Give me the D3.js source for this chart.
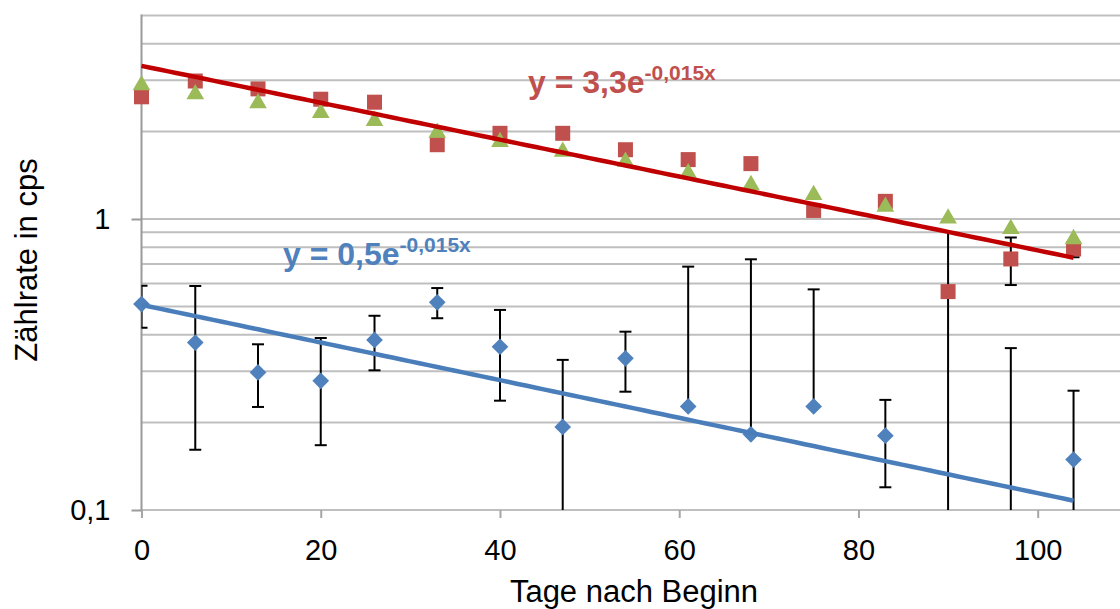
<!DOCTYPE html>
<html>
<head>
<meta charset="utf-8">
<script src="https://cdn.jsdelivr.net/npm/d3@7/dist/d3.min.js"></script>
<style>
  html, body { margin: 0; padding: 0; background: #fff; }
  svg { display: block; font-family: "Liberation Sans", Arial, sans-serif; }
</style>
</head>
<body>
<svg id="chart" width="1120" height="609"></svg>
<script>
// ---- data ----
const days = [0, 6, 13, 20, 26, 33, 40, 47, 54, 61, 68, 75, 83, 90, 97, 104];
const blueValues = [0.51, 0.376, 0.297, 0.278, 0.384, 0.517, 0.364, 0.193, 0.332, 0.227, 0.182, 0.227, 0.18, 0.05, 0.07, 0.149];
const blueHigh   = [0.59, 0.588, 0.371, 0.39, 0.465, 0.579, 0.487, 0.328, 0.41, 0.686, 0.727, 0.573, 0.239, 0.902, 0.36, 0.257];
const blueLow    = [0.423, 0.161, 0.226, 0.167, 0.302, 0.456, 0.2375, 0.05, 0.255, null, null, null, 0.1197, 0.01, 0.01, 0.01];
const redValues  = [2.63, 2.98, 2.80, 2.58, 2.52, 1.80, 1.97, 1.97, 1.73, 1.60, 1.55, 1.07, 1.15, 0.563, 0.729, 0.789];
const redHigh    = [null, null, null, null, null, null, null, null, null, null, null, null, null, null, 0.863, 0.84];
const redLow     = [null, null, null, null, null, null, null, null, null, null, null, null, null, null, 0.593, 0.739];
const greenValues = [2.93, 2.73, 2.54, 2.35, 2.21, 2.01, 1.87, 1.73, 1.60, 1.46, 1.33, 1.23, 1.12, 1.02, 0.939, 0.867];
// exponential trend lines y = a * e^(-b x), fitted in the source chart
const redTrend  = { a: 3.36, b: 0.0146, label: "y = 3,3e", exp: "-0,015x" };
const blueTrend = { a: 0.507, b: 0.0149, label: "y = 0,5e", exp: "-0,015x" };
const trendRange = [0, 104];
const xTicks = [0, 20, 40, 60, 80, 100];
const yTickValues = [0.1, 1];
const yTickLabels = ["0,1", "1"];
const yGridValues = [0.1, 0.2, 0.3, 0.4, 0.5, 0.6, 0.7, 0.8, 0.9, 1, 2, 3, 4, 5];
const xTitle = "Tage nach Beginn";
const yTitle = "Zählrate in cps";

// ---- layout ----
const W = 1120, H = 609;
const svg = d3.select("#chart");
const x = d3.scaleLinear().domain([0, 110]).range([141.5, 141.5 + 110 * 8.962]);
const y = d3.scaleLog().domain([0.1, 5]).range([510, 15.6]);
const plotLeft = x(0), plotBottom = y(0.1), plotTop = y(5);

const COL_BLUE = "#4F81BD", COL_RED = "#C0504D", COL_GREEN = "#9BBB59";

svg.append("defs").append("clipPath").attr("id", "plotclip")
  .append("rect").attr("x", plotLeft).attr("y", plotTop - 1)
  .attr("width", W - plotLeft).attr("height", plotBottom - plotTop + 1);

// gridlines
svg.append("g").selectAll("line").data(yGridValues).join("line")
  .attr("x1", plotLeft).attr("x2", W)
  .attr("y1", d => y(d)).attr("y2", d => y(d))
  .attr("stroke", "#BFBFBF").attr("stroke-width", 2);

// x axis
const xAxis = svg.append("g").attr("transform", `translate(0,${plotBottom})`)
  .call(d3.axisBottom(x).tickValues(xTicks).tickSize(8).tickPadding(21).tickFormat(d3.format("d")));
xAxis.select(".domain").remove();
xAxis.selectAll(".tick line").attr("stroke", "#A6A6A6").attr("stroke-width", 2);
xAxis.selectAll(".tick text").attr("font-size", 29).attr("fill", "#000")
  .attr("font-family", "Liberation Sans, Arial, sans-serif");

// y axis
const yAxis = svg.append("g").attr("transform", `translate(${plotLeft},0)`)
  .call(d3.axisLeft(y).tickValues(yTickValues).tickSize(10).tickPadding(21)
    .tickFormat((d, i) => yTickLabels[i]));
yAxis.select(".domain").attr("stroke", "#9A9A9A").attr("stroke-width", 2)
  .attr("d", `M0,${plotTop - 1}V${plotBottom}`);
yAxis.selectAll(".tick line").attr("stroke", "#9A9A9A").attr("stroke-width", 2);
yAxis.selectAll(".tick text").attr("font-size", 29).attr("fill", "#000")
  .attr("font-family", "Liberation Sans, Arial, sans-serif");

// axis titles
svg.append("text").attr("x", 634).attr("y", 602).attr("text-anchor", "middle")
  .attr("font-size", 31).attr("fill", "#000").text(xTitle);
svg.append("text").attr("transform", "translate(37,260) rotate(-90)")
  .attr("text-anchor", "middle").attr("font-size", 31).attr("fill", "#000").text(yTitle);

// error bars
function errorBars(values, high, low) {
  const g = svg.append("g").attr("clip-path", "url(#plotclip)")
    .attr("stroke", "#000").attr("stroke-width", 2).attr("fill", "none");
  days.forEach((d, i) => {
    if (high[i] == null && low[i] == null) return;
    const cx = x(d);
    const top = high[i] != null ? y(high[i]) : y(values[i]);
    const bot = low[i] != null ? y(low[i]) : y(values[i]);
    g.append("line").attr("x1", cx).attr("x2", cx).attr("y1", top).attr("y2", bot);
    if (high[i] != null) g.append("line").attr("x1", cx - 6).attr("x2", cx + 6).attr("y1", top).attr("y2", top);
    if (low[i] != null) g.append("line").attr("x1", cx - 6).attr("x2", cx + 6).attr("y1", bot).attr("y2", bot);
  });
}
errorBars(blueValues, blueHigh, blueLow);
errorBars(redValues, redHigh, redLow);

function inRange(v) { return v >= 0.1 && v <= 5; }

// blue diamonds
svg.append("g").selectAll("path").data(days.map((d, i) => [d, blueValues[i]]).filter(p => inRange(p[1])))
  .join("path")
  .attr("transform", p => `translate(${x(p[0])},${y(p[1])}) rotate(45)`)
  .attr("d", "M-5.9,-5.9H5.9V5.9H-5.9Z").attr("fill", COL_BLUE);

// red squares
svg.append("g").selectAll("rect").data(days.map((d, i) => [d, redValues[i]]).filter(p => inRange(p[1])))
  .join("rect")
  .attr("x", p => x(p[0]) - 7.5).attr("y", p => y(p[1]) - 7.5)
  .attr("width", 15).attr("height", 15).attr("fill", COL_RED);

// green triangles
const tri = d3.symbol().type(d3.symbolTriangle).size(135);
svg.append("g").selectAll("path").data(days.map((d, i) => [d, greenValues[i]]).filter(p => inRange(p[1])))
  .join("path")
  .attr("transform", p => `translate(${x(p[0])},${y(p[1]) + 2})`)
  .attr("d", tri).attr("fill", COL_GREEN);

// trend lines
function trendLine(t, color, width) {
  const pts = d3.range(trendRange[0], trendRange[1] + 0.001, 1).map(d => [d, t.a * Math.exp(-t.b * d)]);
  svg.append("path").datum(pts)
    .attr("d", d3.line().x(p => x(p[0])).y(p => y(p[1])))
    .attr("fill", "none").attr("stroke", color).attr("stroke-width", width);
}
trendLine(redTrend, "#C00000", 4.5);
trendLine(blueTrend, "#4A7EBB", 4.5);

// equations
function equation(t, px, py, color) {
  const tx = svg.append("text").attr("x", px).attr("y", py)
    .attr("font-weight", "bold").attr("font-size", 32).attr("fill", color);
  tx.append("tspan").text(t.label);
  tx.append("tspan").attr("font-size", 21).attr("dy", -13).text(t.exp);
}
equation(redTrend, 528, 93, COL_RED);
equation(blueTrend, 283, 265, COL_BLUE);
</script>
</body>
</html>
